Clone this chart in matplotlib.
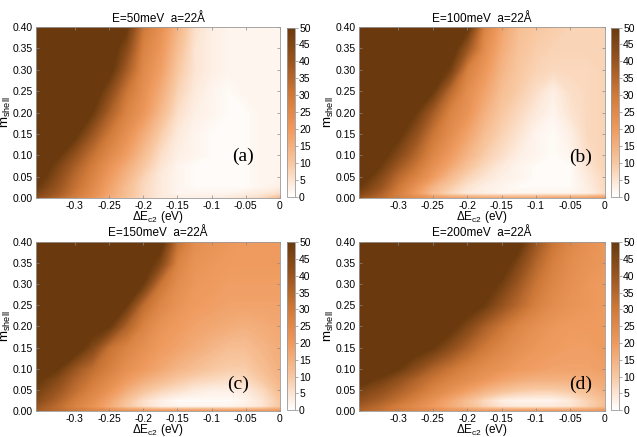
import numpy as np
import matplotlib
matplotlib.use('Agg')
import matplotlib.pyplot as plt
from matplotlib.colors import LinearSegmentedColormap, Normalize
import matplotlib.cm as cm

plt.rcParams['font.family'] = ['Liberation Sans', 'DejaVu Sans']
plt.rcParams['mathtext.fontset'] = 'custom'
plt.rcParams['mathtext.rm'] = 'Liberation Sans'
plt.rcParams['mathtext.it'] = 'Liberation Sans'

# grid of the maps
dEc2 = [-0.357, -0.325, -0.3, -0.275, -0.25, -0.225, -0.2, -0.175,
        -0.15, -0.125, -0.1, -0.075, -0.05, -0.025, 0.0]
mshell = [0.0, 0.01, 0.025, 0.05, 0.075, 0.1, 0.15, 0.2, 0.25, 0.3, 0.35, 0.4]

# E = 50 meV
map_a = [
    [42, 35, 28, 22, 16, 11, 7, 4, 3, 3, 3, 4, 5, 7, 12],
    [46, 38, 30, 24, 17, 12, 7, 4, 2, 2, 2, 2, 3, 4, 6],
    [50, 40, 32, 25, 18, 12, 7, 4, 2, 1, 1, 1, 1, 2, 3],
    [55, 43, 34, 27, 20, 14, 8, 4, 2, 1, 1, 1, 1, 2, 2],
    [58, 46, 37, 29, 22, 16, 10, 5, 2, 1, 1, 1, 1, 2, 2],
    [64, 51, 41, 32, 25, 19, 12, 6, 3, 2, 1, 1, 1, 2, 2],
    [72, 60, 52, 40, 30, 23, 16, 9, 4, 2, 1, 1, 1, 2, 2],
    [78, 67, 60, 50, 37, 27, 21, 13, 6, 3, 2, 1, 1, 2, 2],
    [81, 72, 64, 56, 44, 31, 23, 16, 8, 4, 2, 1, 2, 2, 2],
    [83, 76, 68, 60, 53, 38, 25, 19, 10, 5, 3, 2, 2, 2, 2],
    [85, 78, 71, 64, 56, 44, 27, 21, 12, 5, 3, 2, 2, 2, 2],
    [88, 80, 74, 67, 59, 51, 30, 23, 14, 6, 3, 2, 2, 2, 2],
]

# E = 100 meV
map_b = [
    [40, 34, 28, 24, 20, 18, 17, 16, 16, 16, 16, 17, 17, 18, 20],
    [45, 36, 28, 20, 12, 7, 4, 3, 2, 2, 2, 2, 2, 3, 6],
    [50, 40, 30, 22, 14, 9, 5, 3, 2, 1, 1, 1, 1, 3, 7],
    [56, 44, 34, 27, 20, 13, 8, 5, 3, 2, 1, 1, 1, 4, 7],
    [62, 49, 39, 31, 23, 17, 11, 7, 4, 2, 1, 1, 1, 5, 8],
    [68, 53, 44, 35, 26, 20, 14, 9, 6, 3, 2, 1, 2, 6, 8],
    [75, 62, 52, 42, 31, 24, 18, 12, 8, 5, 2, 1, 3, 7, 8],
    [80, 70, 60, 50, 38, 27, 22, 15, 10, 7, 4, 2, 5, 7, 8],
    [84, 74, 65, 57, 50, 34, 24, 18, 12, 9, 6, 3, 6, 7, 8],
    [87, 78, 70, 62, 56, 48, 28, 21, 14, 10, 8, 7, 7, 7, 8],
    [90, 82, 74, 67, 60, 56, 40, 24, 16, 11, 9, 8, 8, 8, 8],
    [92, 85, 78, 70, 64, 58, 52, 27, 18, 12, 10, 9, 8, 8, 8],
]

# E = 150 meV
map_c = [
    [38, 34, 30, 27, 24, 22, 21, 20, 20, 20, 20, 20, 20, 20, 21],
    [40, 33, 27, 22, 16, 10, 6, 3, 2, 2, 2, 2, 3, 5, 10],
    [44, 36, 29, 24, 18, 11, 6, 3, 1, 1, 1, 1, 2, 5, 10],
    [48, 40, 33, 27, 22, 16, 11, 8, 6, 4, 3, 3, 4, 7, 12],
    [52, 44, 36, 30, 25, 20, 16, 13, 10, 8, 7, 6, 7, 10, 14],
    [57, 50, 40, 33, 28, 23, 20, 17, 14, 12, 10, 9, 9, 12, 15],
    [66, 58, 55, 45, 32, 27, 23, 20, 18, 16, 14, 12, 12, 14, 16],
    [73, 66, 60, 54, 50, 36, 27, 22, 20, 18, 17, 16, 15, 16, 17],
    [78, 72, 66, 60, 54, 50, 33, 26, 22, 20, 19, 18, 18, 18, 18],
    [82, 76, 71, 66, 60, 56, 49, 31, 24, 21, 20, 19, 19, 19, 19],
    [85, 80, 75, 70, 66, 61, 56, 45, 27, 22, 21, 20, 20, 20, 20],
    [88, 83, 78, 74, 70, 66, 60, 54, 32, 24, 22, 21, 20, 20, 20],
]

# E = 200 meV
map_d = [
    [36, 32, 29, 26, 24, 22, 21, 20, 20, 20, 20, 20, 20, 20, 21],
    [38, 33, 28, 24, 20, 16, 12, 8, 5, 4, 4, 4, 5, 8, 12],
    [42, 37, 32, 27, 22, 17, 12, 7, 3, 2, 2, 2, 4, 8, 12],
    [47, 42, 37, 32, 27, 23, 19, 15, 12, 10, 9, 9, 10, 12, 15],
    [54, 48, 42, 36, 31, 27, 24, 21, 18, 16, 15, 15, 15, 16, 17],
    [60, 55, 50, 43, 36, 31, 27, 24, 22, 20, 19, 18, 18, 18, 19],
    [68, 62, 58, 54, 50, 43, 36, 30, 26, 23, 21, 20, 19, 19, 20],
    [75, 70, 65, 60, 56, 53, 45, 37, 31, 26, 23, 21, 20, 20, 20],
    [80, 75, 70, 66, 62, 58, 55, 49, 41, 34, 28, 24, 22, 21, 20],
    [84, 79, 75, 71, 67, 63, 59, 56, 48, 39, 31, 26, 23, 21, 20],
    [87, 82, 78, 75, 71, 67, 63, 60, 56, 45, 35, 28, 24, 22, 21],
    [90, 85, 81, 78, 74, 70, 66, 62, 58, 53, 40, 31, 26, 23, 21],
]

titles = [u'E=50meV  a=22\u00c5', u'E=100meV  a=22\u00c5',
          u'E=150meV  a=22\u00c5', u'E=200meV  a=22\u00c5']
tags = ['(a)', '(b)', '(c)', '(d)']
tag_pos = [(-0.054, 0.098), (-0.035, 0.096), (-0.061, 0.062), (-0.035, 0.062)]
xticks = [-0.3, -0.25, -0.2, -0.15, -0.1, -0.05, 0]
xticklabels = ['-0.3', '-0.25', '-0.2', '-0.15', '-0.1', '-0.05', '0']
yticks = [0.0, 0.05, 0.1, 0.15, 0.2, 0.25, 0.3, 0.35, 0.4]
cbticks = [0, 5, 10, 15, 20, 25, 30, 35, 40, 45, 50]

# white -> orange -> dark brown
cmap = LinearSegmentedColormap.from_list('brown', [
    (0.0, '#ffffff'), (0.1, '#fce4d2'), (0.2, '#f8c7a0'),
    (0.4, '#ef9a5e'), (0.6, '#d07a3a'), (0.8, '#9a5520'),
    (1.0, '#6a3a0e')])
cmap.set_over('#6a3a0e')
norm = Normalize(0, 50)

fig = plt.figure(figsize=(6.37, 4.37), dpi=100)

# [left, bottom, width, height] of every map and its colorbar
ax_pos = [[0.0565, 0.547, 0.383, 0.391], [0.5636, 0.547, 0.386, 0.391],
          [0.0565, 0.0595, 0.383, 0.387], [0.5636, 0.0595, 0.386, 0.387]]
cb_pos = [[0.4505, 0.549, 0.0125, 0.388], [0.9592, 0.549, 0.0125, 0.388],
          [0.4505, 0.0615, 0.0125, 0.384], [0.9592, 0.0615, 0.0125, 0.384]]

X, Y = np.meshgrid(dEc2, mshell)
levels = np.linspace(0, 50, 201)

for i, z in enumerate([map_a, map_b, map_c, map_d]):
    ax = fig.add_axes(ax_pos[i])
    ax.contourf(X, Y, np.array(z, dtype=float), levels=levels,
                cmap=cmap, norm=norm, extend='max', antialiased=False)
    ax.set_xlim(dEc2[0], 0)
    ax.set_ylim(0, 0.4)
    ax.set_xticks(xticks)
    ax.set_xticklabels(xticklabels)
    ax.set_yticks(yticks)
    ax.set_yticklabels(['%.2f' % v for v in yticks])
    ax.tick_params(direction='in', length=2, width=0.5, labelsize=7.5,
                   color='#888888', pad=2, top=True, right=True)
    for s in ax.spines.values():
        s.set_color('#999999')
        s.set_linewidth(0.6)
    ax.set_title(titles[i], fontsize=8.5, pad=4)
    ax.set_xlabel(r'$\Delta$E$_{\mathregular{c2}}$ (eV)', fontsize=8.5, labelpad=-1)
    ax.set_ylabel(r'm$_{\mathregular{shell}}$', fontsize=9.5, labelpad=0)
    ax.text(tag_pos[i][0], tag_pos[i][1], tags[i], family='Liberation Serif',
            fontsize=14, ha='center', va='center')

    cax = fig.add_axes(cb_pos[i])
    cb = fig.colorbar(cm.ScalarMappable(norm=norm, cmap=cmap), cax=cax,
                      ticks=cbticks)
    cb.outline.set_edgecolor('#999999')
    cb.outline.set_linewidth(0.6)
    cax.tick_params(labelsize=7.5, length=2, width=0.5, color='#888888', pad=1)

fig.savefig('out.png', dpi=100)
